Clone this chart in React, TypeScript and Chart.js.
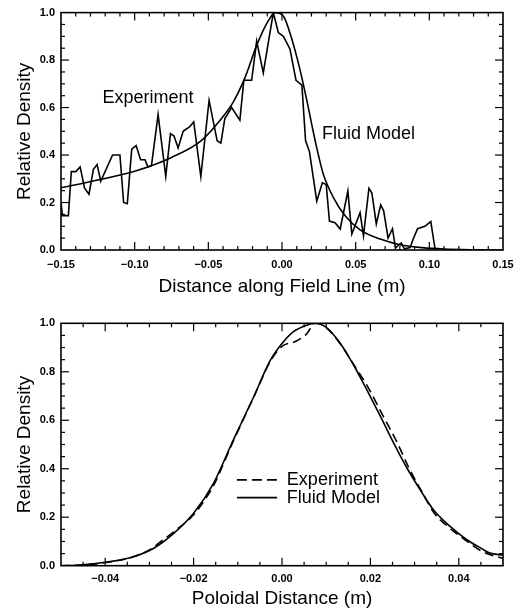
import React, { useEffect, useRef } from 'react';
import { Chart, registerables } from 'chart.js';

Chart.register(...registerables);

// ---------- Data: top panel (Distance along Field Line) ----------
const topExpX = [-0.150, -0.149, -0.145, -0.143, -0.140, -0.137, -0.134, -0.131, -0.128, -0.1255, -0.123, -0.115, -0.110, -0.1075, -0.105, -0.102, -0.099, -0.096, -0.093, -0.091, -0.0886, -0.0841, -0.0789, -0.0757, -0.0733, -0.0705, -0.0671, -0.0626, -0.0599, -0.0551, -0.0495, -0.044, -0.0415, -0.0388, -0.0342, -0.0286, -0.0259, -0.0206, -0.0172, -0.0127, -0.0059, -0.0025, 0.0009, 0.0054, 0.0095, 0.0135, 0.016, 0.0186, 0.0236, 0.0274, 0.030, 0.0322, 0.036, 0.0395, 0.0447, 0.0474, 0.053, 0.0553, 0.059, 0.061, 0.064, 0.067, 0.069, 0.072, 0.075, 0.077, 0.079, 0.081, 0.083, 0.087, 0.089, 0.092, 0.097, 0.101, 0.104];
const topExpY = [0.20, 0.145, 0.145, 0.33, 0.33, 0.35, 0.26, 0.235, 0.34, 0.36, 0.29, 0.40, 0.40, 0.20, 0.195, 0.425, 0.44, 0.38, 0.38, 0.35, 0.355, 0.57, 0.31, 0.49, 0.48, 0.43, 0.50, 0.52, 0.54, 0.31, 0.63, 0.46, 0.45, 0.554, 0.60, 0.547, 0.715, 0.715, 0.88, 0.746, 1.0, 0.916, 0.90, 0.847, 0.715, 0.694, 0.46, 0.415, 0.206, 0.283, 0.276, 0.122, 0.115, 0.088, 0.248, 0.067, 0.157, 0.06, 0.26, 0.24, 0.11, 0.19, 0.165, 0.05, 0.09, 0.008, 0.02, 0.03, 0.005, 0.01, 0.045, 0.09, 0.10, 0.12, 0.0];

const topModelX = [-0.150, -0.125, -0.100, -0.075, -0.055, -0.042, -0.033, -0.025, -0.017, -0.010, -0.0045, 0.001, 0.0066, 0.0122, 0.0172, 0.0205, 0.0236, 0.028, 0.035, 0.043, 0.053, 0.0667, 0.080, 0.095, 0.110, 0.130, 0.150];
const topModelY = [0.262, 0.295, 0.332, 0.39, 0.46, 0.547, 0.624, 0.728, 0.865, 0.958, 1.0, 0.985, 0.89, 0.76, 0.62, 0.52, 0.43, 0.32, 0.22, 0.143, 0.085, 0.046, 0.022, 0.010, 0.004, 0.001, 0.0];

const topXTicks = [-0.15, -0.10, -0.05, 0.0, 0.05, 0.10, 0.15];

// ---------- Data: bottom panel (Poloidal Distance) ----------
const botExpX = [-0.05, -0.045, -0.039, -0.034, -0.030, -0.027, -0.0245, -0.020, -0.017, -0.0155, -0.011, -0.0064, -0.0026, 0.0, 0.003, 0.0055, 0.0075, 0.0098, 0.0132, 0.0162, 0.0195, 0.0228, 0.026, 0.0288, 0.0318, 0.0345, 0.037, 0.0419, 0.0457, 0.05];
const botExpY = [0.0, 0.003, 0.015, 0.035, 0.065, 0.105, 0.14, 0.21, 0.285, 0.33, 0.515, 0.695, 0.845, 0.905, 0.925, 0.955, 1.0, 0.985, 0.915, 0.83, 0.735, 0.62, 0.51, 0.40, 0.30, 0.215, 0.17, 0.10, 0.055, 0.03];

const botModelX = [-0.05, -0.0457, -0.0389, -0.0336, -0.029, -0.0245, -0.020, -0.0155, -0.011, -0.0064, -0.0026, 0.0, 0.0026, 0.0057, 0.0075, 0.0098, 0.0132, 0.0162, 0.0192, 0.0223, 0.0253, 0.0283, 0.0313, 0.0343, 0.0381, 0.0419, 0.0457, 0.047, 0.05];
const botModelY = [0.0, 0.003, 0.017, 0.037, 0.072, 0.133, 0.216, 0.34, 0.519, 0.697, 0.849, 0.917, 0.966, 0.993, 1.0, 0.986, 0.917, 0.828, 0.725, 0.615, 0.505, 0.402, 0.312, 0.23, 0.161, 0.106, 0.065, 0.052, 0.044];

const botXTicks = [-0.04, -0.02, 0.0, 0.02, 0.04];

const yTicks = [0.0, 0.2, 0.4, 0.6, 0.8, 1.0];

const seriesNames = ['Experiment', 'Fluid Model'];
const xTitles = ['Distance along Field Line (m)', 'Poloidal Distance (m)'];
const yTitle = 'Relative Density';

// ---------- helpers ----------
const zip = (xs: number[], ys: number[]) => xs.map((x, i) => ({ x, y: ys[i] }));
const fmt = (v: number, d: number) => {
  const s = Math.abs(v).toFixed(d);
  return v < -1e-9 ? '\u2212' + s : s;
};

const FONT = "'Liberation Sans', Arial, Helvetica, sans-serif";

const frameTicksPlugin = {
  id: 'frameTicks',
  afterDatasetsDraw(chart: any, _args: any, opts: any) {
    const { ctx, chartArea: a, scales } = chart;
    const xs = scales.x;
    const ys = scales.y;
    ctx.save();
    ctx.strokeStyle = '#000';
    ctx.lineWidth = 1.6;
    ctx.strokeRect(a.left, a.top, a.right - a.left, a.bottom - a.top);
    ctx.lineWidth = 1.2;
    const seg = (x1: number, y1: number, x2: number, y2: number) => {
      ctx.beginPath();
      ctx.moveTo(x1, y1);
      ctx.lineTo(x2, y2);
      ctx.stroke();
    };
    const isMajor = (v: number, step: number) => Math.abs(v / step - Math.round(v / step)) < 1e-6;
    const nx = Math.round((xs.max - xs.min) / opts.xMinor);
    for (let i = 1; i < nx; i++) {
      const v = xs.min + i * opts.xMinor;
      const len = isMajor(v, opts.xMajor) ? 8 : 4;
      const px = xs.getPixelForValue(v);
      seg(px, a.bottom, px, a.bottom - len);
      seg(px, a.top, px, a.top + len);
    }
    const ny = Math.round((ys.max - ys.min) / opts.yMinor);
    for (let i = 1; i < ny; i++) {
      const v = ys.min + i * opts.yMinor;
      const len = isMajor(v, opts.yMajor) ? 8 : 4;
      const py = ys.getPixelForValue(v);
      seg(a.left, py, a.left + len, py);
      seg(a.right, py, a.right - len, py);
    }
    ctx.restore();
  },
};

const notesPlugin = {
  id: 'notes',
  afterDatasetsDraw(chart: any, _args: any, opts: any) {
    const { ctx, scales } = chart;
    const xs = scales.x;
    const ys = scales.y;
    ctx.save();
    ctx.fillStyle = '#000';
    ctx.strokeStyle = '#000';
    ctx.font = `18px ${FONT}`;
    ctx.textBaseline = 'middle';
    ctx.textAlign = 'left';
    (opts.texts || []).forEach((t: any) => {
      ctx.fillText(t.text, xs.getPixelForValue(t.x), ys.getPixelForValue(t.y));
    });
    (opts.legend || []).forEach((l: any) => {
      const y = ys.getPixelForValue(l.y);
      ctx.lineWidth = 1.6;
      ctx.setLineDash(l.dash || []);
      ctx.beginPath();
      ctx.moveTo(xs.getPixelForValue(l.x1), y);
      ctx.lineTo(xs.getPixelForValue(l.x2), y);
      ctx.stroke();
      ctx.setLineDash([]);
      ctx.fillText(l.text, xs.getPixelForValue(l.tx), y);
    });
    ctx.restore();
  },
};

function buildConfig(p: {
  datasets: any[];
  xMin: number; xMax: number; xTicks: number[]; xTitle: string;
  padTop: number; padRight: number; xAxisHeight: number; xTickPad: number; xTitlePad: number;
  frame: any; notes: any;
}) {
  return {
    type: 'scatter',
    data: { datasets: p.datasets },
    plugins: [frameTicksPlugin, notesPlugin],
    options: {
      responsive: false,
      animation: false,
      events: [],
      layout: { padding: { top: p.padTop, right: p.padRight, left: 0, bottom: 0 } },
      plugins: {
        legend: { display: false },
        tooltip: { enabled: false },
        frameTicks: p.frame,
        notes: p.notes,
      },
      scales: {
        x: {
          type: 'linear',
          min: p.xMin,
          max: p.xMax,
          grid: { display: false, drawTicks: false },
          border: { display: false },
          afterBuildTicks: (s: any) => { s.ticks = p.xTicks.map((v) => ({ value: v })); },
          afterFit: (s: any) => { s.height = p.xAxisHeight; },
          ticks: {
            autoSkip: false,
            maxRotation: 0,
            padding: p.xTickPad,
            color: '#000',
            font: { family: FONT, size: 11, weight: 'bold' },
            callback: (v: any) => fmt(Number(v), 2),
          },
          title: {
            display: true,
            text: p.xTitle,
            color: '#000',
            font: { family: FONT, size: 19, lineHeight: 1 },
            padding: { top: 0, bottom: p.xTitlePad },
          },
        },
        y: {
          type: 'linear',
          min: 0,
          max: 1,
          grid: { display: false, drawTicks: false },
          border: { display: false },
          afterBuildTicks: (s: any) => { s.ticks = yTicks.map((v) => ({ value: v })); },
          afterFit: (s: any) => { s.width = 61; },
          ticks: {
            autoSkip: false,
            padding: 6,
            color: '#000',
            font: { family: FONT, size: 11, weight: 'bold' },
            callback: (v: any) => fmt(Number(v), 1),
          },
          title: {
            display: true,
            text: yTitle,
            color: '#000',
            font: { family: FONT, size: 19, lineHeight: 1 },
            padding: { top: 15.5, bottom: 0 },
          },
        },
      },
    },
  };
}

function Panel(props: { height: number; config: any }) {
  const ref = useRef<HTMLCanvasElement | null>(null);
  useEffect(() => {
    if (!ref.current) return;
    const chart = new Chart(ref.current, props.config as any);
    return () => chart.destroy();
  }, []);
  return <canvas ref={ref} width={531} height={props.height} style={{ display: 'block' }} />;
}

const lineBase = {
  showLine: true,
  pointRadius: 0,
  pointHoverRadius: 0,
  borderColor: '#000',
  backgroundColor: '#000',
  borderWidth: 1.6,
  fill: false,
};

const topConfig = buildConfig({
  datasets: [
    { ...lineBase, label: seriesNames[0], data: zip(topExpX, topExpY), tension: 0 },
    { ...lineBase, label: seriesNames[1], data: zip(topModelX, topModelY), cubicInterpolationMode: 'monotone' },
  ],
  xMin: -0.15, xMax: 0.15, xTicks: topXTicks, xTitle: xTitles[0],
  padTop: 8, padRight: 28, xAxisHeight: 55, xTickPad: 8.4, xTitlePad: 8.5,
  frame: { xMinor: 0.01, xMajor: 0.05, yMinor: 0.05, yMajor: 0.2 },
  notes: {
    texts: [
      { text: seriesNames[0], x: -0.1218, y: 0.64 },
      { text: seriesNames[1], x: 0.0272, y: 0.49 },
    ],
  },
});

const bottomConfig = buildConfig({
  datasets: [
    { ...lineBase, label: seriesNames[0], data: zip(botExpX, botExpY), borderDash: [9, 5], cubicInterpolationMode: 'monotone' },
    { ...lineBase, label: seriesNames[1], data: zip(botModelX, botModelY), cubicInterpolationMode: 'monotone' },
  ],
  xMin: -0.05, xMax: 0.05, xTicks: botXTicks, xTitle: xTitles[1],
  padTop: 18.3, padRight: 28, xAxisHeight: 43.3, xTickPad: 7, xTitlePad: 1.2,
  frame: { xMinor: 0.005, xMajor: 0.02, yMinor: 0.05, yMajor: 0.2 },
  notes: {
    legend: [
      { text: seriesNames[0], x1: -0.0102, x2: -0.0011, tx: 0.0011, y: 0.354, dash: [10, 5] },
      { text: seriesNames[1], x1: -0.0102, x2: -0.0011, tx: 0.0011, y: 0.281, dash: [] },
    ],
  },
});

export default function App() {
  return (
    <div style={{ position: 'absolute', left: 0, top: 0, width: 531, height: 609, background: '#fff' }}>
      <Panel height={305} config={topConfig} />
      <Panel height={304} config={bottomConfig} />
    </div>
  );
}
